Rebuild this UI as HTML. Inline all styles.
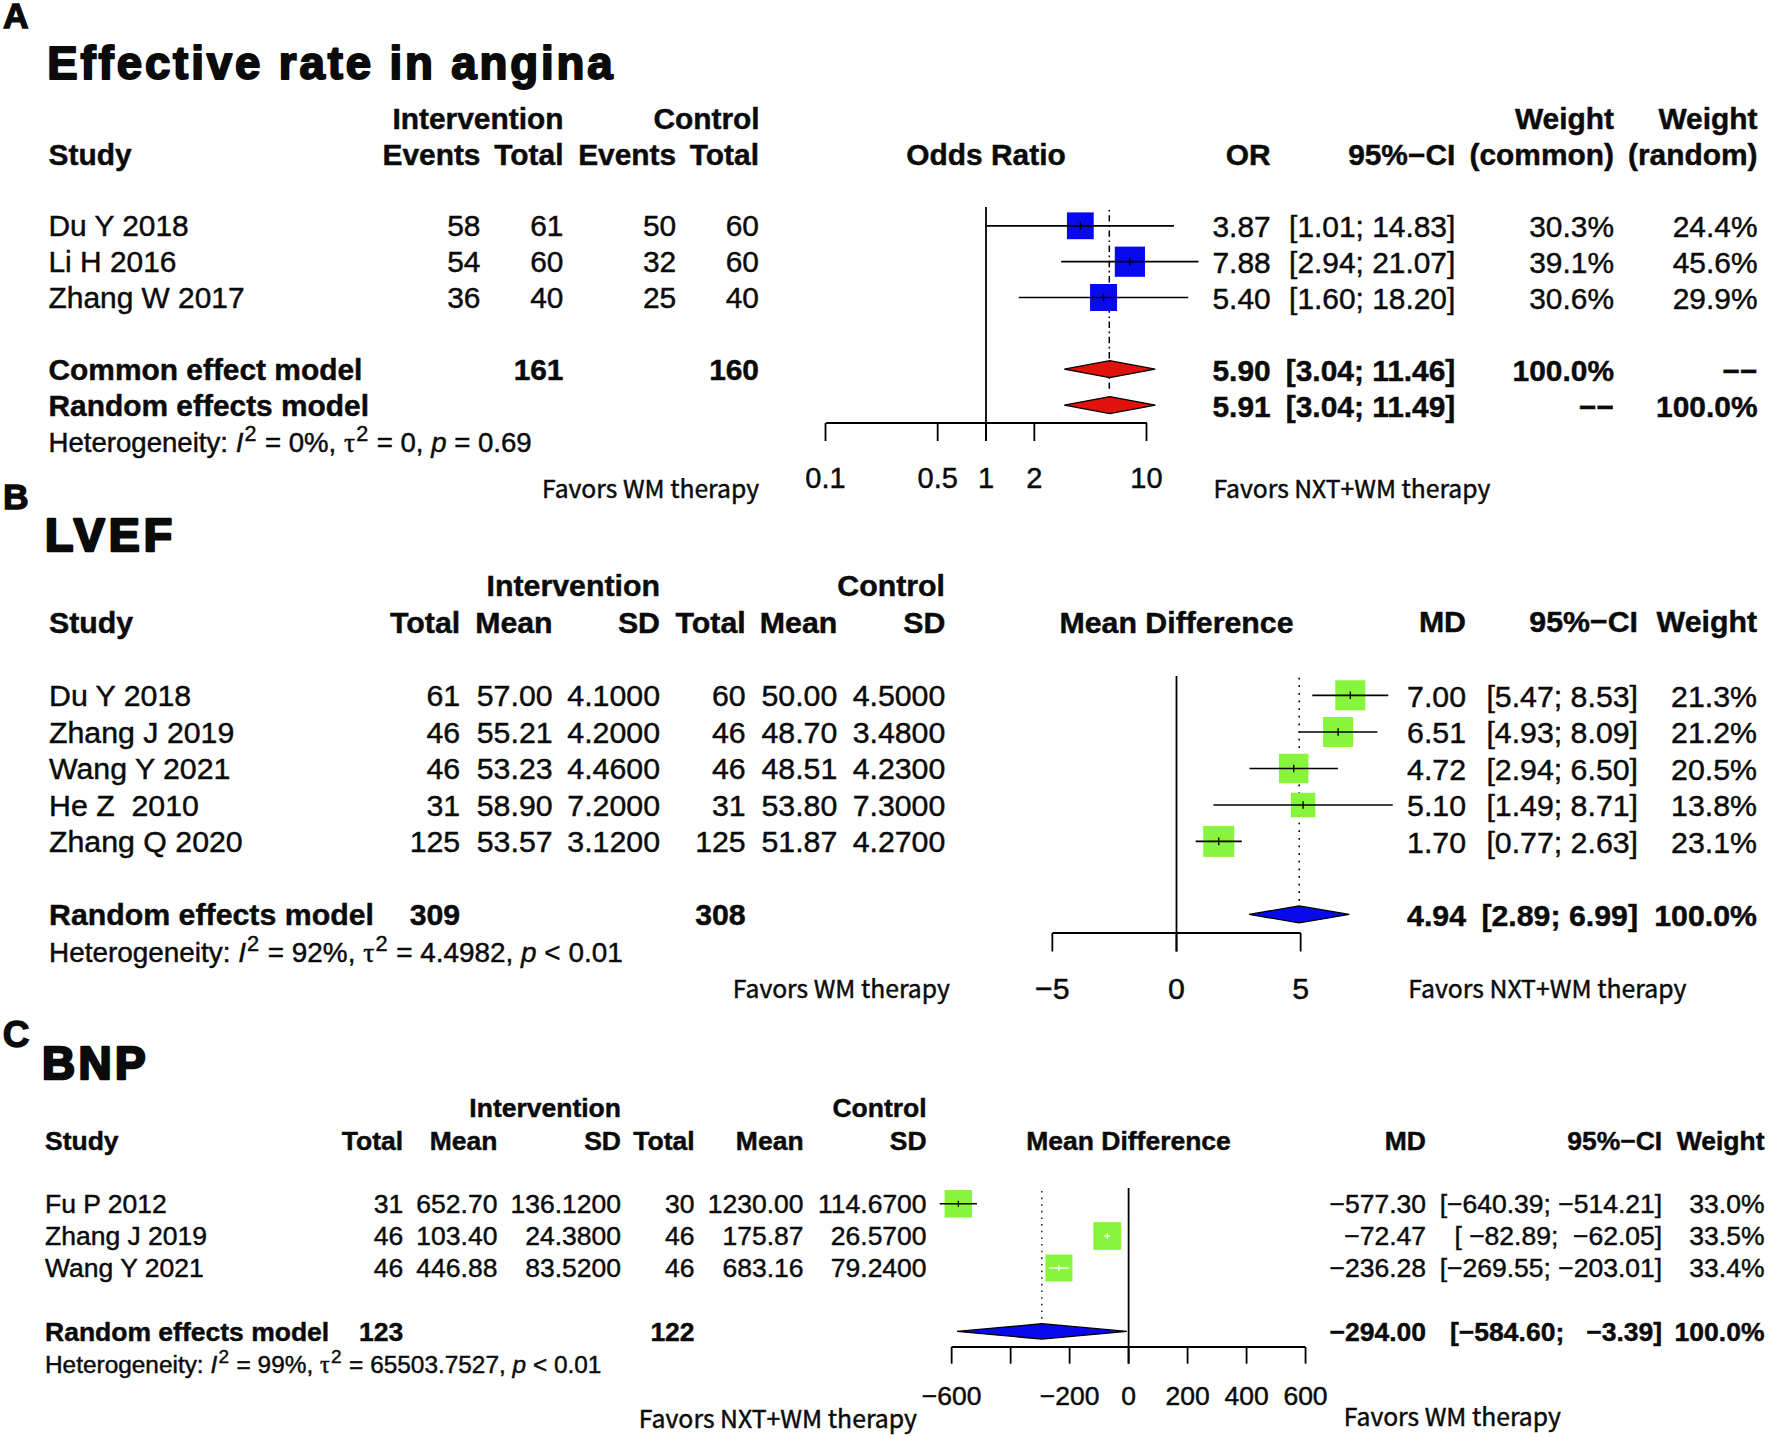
<!DOCTYPE html>
<html lang="en"><head><meta charset="utf-8"><title>Forest plots</title>
<style>
html,body{margin:0;padding:0;background:#fff}
body{width:1772px;height:1438px;overflow:hidden}
svg{display:block}
text{font-family:"Liberation Sans",Arial,Helvetica,sans-serif;fill:#0b0b0b;white-space:pre;stroke:#0b0b0b;stroke-width:0.45px}
text.b{font-weight:bold}
</style></head><body>
<svg width="1772" height="1438" viewBox="0 0 1772 1438">
<rect width="1772" height="1438" fill="#fff"/>
<text x="3" y="28" class="b" font-size="35.5" style="stroke-width:1.3px">A</text>
<text x="3" y="508.6" class="b" font-size="35.5" style="stroke-width:1.3px">B</text>
<text x="2.8" y="1047.2" class="b" font-size="37" style="stroke-width:1.3px">C</text>
<text x="47.2" y="78.9" class="b" font-size="45.6" style="stroke-width:2.0px;stroke-linejoin:round;stroke-linecap:round" textLength="565.5" lengthAdjust="spacing">Effective rate in angina</text>
<text x="45" y="550.5" class="b" font-size="46.4" style="stroke-width:2.6px;stroke-linejoin:round;stroke-linecap:round" textLength="127" lengthAdjust="spacing">LVEF</text>
<text x="42" y="1079.2" class="b" font-size="45.8" style="stroke-width:2.6px;stroke-linejoin:round;stroke-linecap:round" textLength="103.6" lengthAdjust="spacing">BNP</text>
<text x="563.5" y="129" text-anchor="end" class="b" font-size="29.9">Intervention</text>
<text x="759.7" y="129" text-anchor="end" class="b" font-size="29.9">Control</text>
<text x="1614" y="129" text-anchor="end" class="b" font-size="29.9">Weight</text>
<text x="1757.5" y="129" text-anchor="end" class="b" font-size="29.9">Weight</text>
<text x="48.5" y="165" class="b" font-size="29.9">Study</text>
<text x="480.5" y="165" text-anchor="end" class="b" font-size="29.9">Events</text>
<text x="563.5" y="165" text-anchor="end" class="b" font-size="29.9">Total</text>
<text x="676.2" y="165" text-anchor="end" class="b" font-size="29.9">Events</text>
<text x="759" y="165" text-anchor="end" class="b" font-size="29.9">Total</text>
<text x="986" y="165" text-anchor="middle" class="b" font-size="29.9">Odds Ratio</text>
<text x="1270.7" y="165" text-anchor="end" class="b" font-size="29.9">OR</text>
<text x="1455.3" y="165" text-anchor="end" class="b" font-size="29.9">95%−CI</text>
<text x="1614" y="165" text-anchor="end" class="b" font-size="29.9">(common)</text>
<text x="1757.5" y="165" text-anchor="end" class="b" font-size="29.9">(random)</text>
<text x="48.5" y="236" font-size="29.9">Du Y 2018</text>
<text x="480.5" y="236" text-anchor="end" font-size="29.9">58</text>
<text x="563.5" y="236" text-anchor="end" font-size="29.9">61</text>
<text x="676.2" y="236" text-anchor="end" font-size="29.9">50</text>
<text x="759" y="236" text-anchor="end" font-size="29.9">60</text>
<text x="1270.7" y="236.7" text-anchor="end" font-size="29.9">3.87</text>
<text x="1455.3" y="236.7" text-anchor="end" font-size="29.9">[1.01; 14.83]</text>
<text x="1614" y="236.7" text-anchor="end" font-size="29.9">30.3%</text>
<text x="1757.5" y="236.7" text-anchor="end" font-size="29.9">24.4%</text>
<text x="48.5" y="272" font-size="29.9">Li H 2016</text>
<text x="480.5" y="272" text-anchor="end" font-size="29.9">54</text>
<text x="563.5" y="272" text-anchor="end" font-size="29.9">60</text>
<text x="676.2" y="272" text-anchor="end" font-size="29.9">32</text>
<text x="759" y="272" text-anchor="end" font-size="29.9">60</text>
<text x="1270.7" y="272.7" text-anchor="end" font-size="29.9">7.88</text>
<text x="1455.3" y="272.7" text-anchor="end" font-size="29.9">[2.94; 21.07]</text>
<text x="1614" y="272.7" text-anchor="end" font-size="29.9">39.1%</text>
<text x="1757.5" y="272.7" text-anchor="end" font-size="29.9">45.6%</text>
<text x="48.5" y="308" font-size="29.9">Zhang W 2017</text>
<text x="480.5" y="308" text-anchor="end" font-size="29.9">36</text>
<text x="563.5" y="308" text-anchor="end" font-size="29.9">40</text>
<text x="676.2" y="308" text-anchor="end" font-size="29.9">25</text>
<text x="759" y="308" text-anchor="end" font-size="29.9">40</text>
<text x="1270.7" y="308.7" text-anchor="end" font-size="29.9">5.40</text>
<text x="1455.3" y="308.7" text-anchor="end" font-size="29.9">[1.60; 18.20]</text>
<text x="1614" y="308.7" text-anchor="end" font-size="29.9">30.6%</text>
<text x="1757.5" y="308.7" text-anchor="end" font-size="29.9">29.9%</text>
<text x="48.5" y="380" class="b" font-size="29.9">Common effect model</text>
<text x="563.5" y="380" text-anchor="end" class="b" font-size="29.9">161</text>
<text x="759" y="380" text-anchor="end" class="b" font-size="29.9">160</text>
<text x="1270.7" y="380.7" text-anchor="end" class="b" font-size="29.9">5.90</text>
<text x="1455.3" y="380.7" text-anchor="end" class="b" font-size="29.9">[3.04; 11.46]</text>
<text x="1614" y="380.7" text-anchor="end" class="b" font-size="29.9">100.0%</text>
<text x="1757.5" y="380.7" text-anchor="end" class="b" font-size="29.9">−−</text>
<text x="48.5" y="416" class="b" font-size="29.9">Random effects model</text>
<text x="1270.7" y="416.7" text-anchor="end" class="b" font-size="29.9">5.91</text>
<text x="1455.3" y="416.7" text-anchor="end" class="b" font-size="29.9">[3.04; 11.49]</text>
<text x="1614" y="416.7" text-anchor="end" class="b" font-size="29.9">−−</text>
<text x="1757.5" y="416.7" text-anchor="end" class="b" font-size="29.9">100.0%</text>
<text x="48.5" y="451.5" font-size="27.6">Heterogeneity: <tspan font-style="italic">I</tspan><tspan font-size="21.5" dx="1.2" dy="-11.0">2</tspan><tspan dx="0.8" dy="11.0"> = 0%, </tspan><tspan font-family='"Liberation Serif","DejaVu Serif",serif'>τ</tspan><tspan font-size="21.5" dx="1.2" dy="-11.0">2</tspan><tspan dx="0.8" dy="11.0"> = 0, </tspan><tspan font-style="italic">p</tspan> = 0.69</text>
<text x="759" y="497.5" text-anchor="end" font-size="24.7" style='font-family:"Noto Sans CJK SC","Liberation Sans",sans-serif'>Favors WM therapy</text>
<text x="1213.4" y="497.5" font-size="24.7" style='font-family:"Noto Sans CJK SC","Liberation Sans",sans-serif'>Favors NXT+WM therapy</text>
<line x1="826.00" y1="423.00" x2="1147.00" y2="423.00" stroke="#000" stroke-width="1.8"/>
<line x1="825.50" y1="423.00" x2="825.50" y2="441.00" stroke="#000" stroke-width="1.8"/>
<line x1="937.68" y1="423.00" x2="937.68" y2="441.00" stroke="#000" stroke-width="1.8"/>
<line x1="986.00" y1="423.00" x2="986.00" y2="441.00" stroke="#000" stroke-width="1.8"/>
<line x1="1034.32" y1="423.00" x2="1034.32" y2="441.00" stroke="#000" stroke-width="1.8"/>
<line x1="1146.50" y1="423.00" x2="1146.50" y2="441.00" stroke="#000" stroke-width="1.8"/>
<line x1="986.00" y1="207.00" x2="986.00" y2="441.00" stroke="#000" stroke-width="1.8"/>
<line x1="1109.30" y1="210.00" x2="1109.30" y2="392.00" stroke="#000" stroke-width="1.5" stroke-dasharray="1.6,3.6,6.4,3.6"/>
<rect x="1066.93" y="212.40" width="26.80" height="26.80" fill="#0909f0"/>
<line x1="986.69" y1="225.80" x2="1173.97" y2="225.80" stroke="#000" stroke-width="1.7"/>
<line x1="1080.33" y1="222.00" x2="1080.33" y2="229.60" stroke="#000" stroke-width="1.4"/>
<rect x="1114.79" y="246.60" width="30.20" height="30.20" fill="#0909f0"/>
<line x1="1061.17" y1="261.70" x2="1198.45" y2="261.70" stroke="#000" stroke-width="1.7"/>
<line x1="1129.89" y1="257.90" x2="1129.89" y2="265.50" stroke="#000" stroke-width="1.4"/>
<rect x="1090.05" y="284.00" width="27.00" height="27.00" fill="#0909f0"/>
<line x1="1018.76" y1="297.50" x2="1188.24" y2="297.50" stroke="#000" stroke-width="1.7"/>
<line x1="1103.55" y1="293.70" x2="1103.55" y2="301.30" stroke="#000" stroke-width="1.4"/>
<polygon points="1064.30,369.20 1109.72,360.70 1155.20,369.20 1109.72,377.70" fill="#e1120c" stroke="#000" stroke-width="1.3" stroke-linejoin="miter"/>
<polygon points="1064.30,405.10 1109.84,396.60 1155.38,405.10 1109.84,413.60" fill="#e1120c" stroke="#000" stroke-width="1.3" stroke-linejoin="miter"/>
<text x="825.5" y="488" text-anchor="middle" font-size="29">0.1</text>
<text x="937.7" y="488" text-anchor="middle" font-size="29">0.5</text>
<text x="986.0" y="488" text-anchor="middle" font-size="29">1</text>
<text x="1034.3" y="488" text-anchor="middle" font-size="29">2</text>
<text x="1146.5" y="488" text-anchor="middle" font-size="29">10</text>
<text x="660" y="596" text-anchor="end" class="b" font-size="30.3">Intervention</text>
<text x="945" y="596" text-anchor="end" class="b" font-size="30.3">Control</text>
<text x="49" y="632.5" class="b" font-size="30.3">Study</text>
<text x="460.2" y="632.5" text-anchor="end" class="b" font-size="30.3">Total</text>
<text x="552.6" y="632.5" text-anchor="end" class="b" font-size="30.3">Mean</text>
<text x="660" y="632.5" text-anchor="end" class="b" font-size="30.3">SD</text>
<text x="745.7" y="632.5" text-anchor="end" class="b" font-size="30.3">Total</text>
<text x="837.3" y="632.5" text-anchor="end" class="b" font-size="30.3">Mean</text>
<text x="945.3" y="632.5" text-anchor="end" class="b" font-size="30.3">SD</text>
<text x="1176.5" y="632.5" text-anchor="middle" class="b" font-size="30.3">Mean Difference</text>
<text x="1466" y="631.8" text-anchor="end" class="b" font-size="30.3">MD</text>
<text x="1638" y="631.8" text-anchor="end" class="b" font-size="30.3">95%−CI</text>
<text x="1757" y="631.8" text-anchor="end" class="b" font-size="30.3">Weight</text>
<text x="49" y="706" font-size="30.3">Du Y 2018</text>
<text x="460.2" y="706" text-anchor="end" font-size="30.3">61</text>
<text x="552.6" y="706" text-anchor="end" font-size="30.3">57.00</text>
<text x="660" y="706" text-anchor="end" font-size="30.3">4.1000</text>
<text x="745.7" y="706" text-anchor="end" font-size="30.3">60</text>
<text x="837.3" y="706" text-anchor="end" font-size="30.3">50.00</text>
<text x="945.3" y="706" text-anchor="end" font-size="30.3">4.5000</text>
<text x="1466" y="706.8" text-anchor="end" font-size="30.3">7.00</text>
<text x="1638" y="706.8" text-anchor="end" font-size="30.3">[5.47; 8.53]</text>
<text x="1757" y="706.8" text-anchor="end" font-size="30.3">21.3%</text>
<text x="49" y="742.5" font-size="30.3">Zhang J 2019</text>
<text x="460.2" y="742.5" text-anchor="end" font-size="30.3">46</text>
<text x="552.6" y="742.5" text-anchor="end" font-size="30.3">55.21</text>
<text x="660" y="742.5" text-anchor="end" font-size="30.3">4.2000</text>
<text x="745.7" y="742.5" text-anchor="end" font-size="30.3">46</text>
<text x="837.3" y="742.5" text-anchor="end" font-size="30.3">48.70</text>
<text x="945.3" y="742.5" text-anchor="end" font-size="30.3">3.4800</text>
<text x="1466" y="743.3" text-anchor="end" font-size="30.3">6.51</text>
<text x="1638" y="743.3" text-anchor="end" font-size="30.3">[4.93; 8.09]</text>
<text x="1757" y="743.3" text-anchor="end" font-size="30.3">21.2%</text>
<text x="49" y="779" font-size="30.3">Wang Y 2021</text>
<text x="460.2" y="779" text-anchor="end" font-size="30.3">46</text>
<text x="552.6" y="779" text-anchor="end" font-size="30.3">53.23</text>
<text x="660" y="779" text-anchor="end" font-size="30.3">4.4600</text>
<text x="745.7" y="779" text-anchor="end" font-size="30.3">46</text>
<text x="837.3" y="779" text-anchor="end" font-size="30.3">48.51</text>
<text x="945.3" y="779" text-anchor="end" font-size="30.3">4.2300</text>
<text x="1466" y="779.8" text-anchor="end" font-size="30.3">4.72</text>
<text x="1638" y="779.8" text-anchor="end" font-size="30.3">[2.94; 6.50]</text>
<text x="1757" y="779.8" text-anchor="end" font-size="30.3">20.5%</text>
<text x="49" y="815.5" font-size="30.3">He Z&#160; 2010</text>
<text x="460.2" y="815.5" text-anchor="end" font-size="30.3">31</text>
<text x="552.6" y="815.5" text-anchor="end" font-size="30.3">58.90</text>
<text x="660" y="815.5" text-anchor="end" font-size="30.3">7.2000</text>
<text x="745.7" y="815.5" text-anchor="end" font-size="30.3">31</text>
<text x="837.3" y="815.5" text-anchor="end" font-size="30.3">53.80</text>
<text x="945.3" y="815.5" text-anchor="end" font-size="30.3">7.3000</text>
<text x="1466" y="816.3" text-anchor="end" font-size="30.3">5.10</text>
<text x="1638" y="816.3" text-anchor="end" font-size="30.3">[1.49; 8.71]</text>
<text x="1757" y="816.3" text-anchor="end" font-size="30.3">13.8%</text>
<text x="49" y="852" font-size="30.3">Zhang Q 2020</text>
<text x="460.2" y="852" text-anchor="end" font-size="30.3">125</text>
<text x="552.6" y="852" text-anchor="end" font-size="30.3">53.57</text>
<text x="660" y="852" text-anchor="end" font-size="30.3">3.1200</text>
<text x="745.7" y="852" text-anchor="end" font-size="30.3">125</text>
<text x="837.3" y="852" text-anchor="end" font-size="30.3">51.87</text>
<text x="945.3" y="852" text-anchor="end" font-size="30.3">4.2700</text>
<text x="1466" y="852.8" text-anchor="end" font-size="30.3">1.70</text>
<text x="1638" y="852.8" text-anchor="end" font-size="30.3">[0.77; 2.63]</text>
<text x="1757" y="852.8" text-anchor="end" font-size="30.3">23.1%</text>
<text x="49" y="925" class="b" font-size="30.3">Random effects model</text>
<text x="460.2" y="925" text-anchor="end" class="b" font-size="30.3">309</text>
<text x="745.7" y="925" text-anchor="end" class="b" font-size="30.3">308</text>
<text x="1466" y="925.8" text-anchor="end" class="b" font-size="30.3">4.94</text>
<text x="1638" y="925.8" text-anchor="end" class="b" font-size="30.3">[2.89; 6.99]</text>
<text x="1757" y="925.8" text-anchor="end" class="b" font-size="30.3">100.0%</text>
<text x="49" y="962" font-size="27.9">Heterogeneity: <tspan font-style="italic">I</tspan><tspan font-size="21.8" dx="1.2" dy="-11.2">2</tspan><tspan dx="0.8" dy="11.2"> = 92%, </tspan><tspan font-family='"Liberation Serif","DejaVu Serif",serif'>τ</tspan><tspan font-size="21.8" dx="1.2" dy="-11.2">2</tspan><tspan dx="0.8" dy="11.2"> = 4.4982, </tspan><tspan font-style="italic">p</tspan> &lt; 0.01</text>
<text x="949.8" y="997.5" text-anchor="end" font-size="24.7" style='font-family:"Noto Sans CJK SC","Liberation Sans",sans-serif'>Favors WM therapy</text>
<text x="1408.3" y="997.5" font-size="24.8" style='font-family:"Noto Sans CJK SC","Liberation Sans",sans-serif'>Favors NXT+WM therapy</text>
<line x1="1052.50" y1="933.00" x2="1300.80" y2="933.00" stroke="#000" stroke-width="1.8"/>
<line x1="1052.35" y1="933.00" x2="1052.35" y2="951.50" stroke="#000" stroke-width="1.8"/>
<line x1="1176.50" y1="933.00" x2="1176.50" y2="951.50" stroke="#000" stroke-width="1.8"/>
<line x1="1300.65" y1="933.00" x2="1300.65" y2="951.50" stroke="#000" stroke-width="1.8"/>
<line x1="1176.50" y1="676.00" x2="1176.50" y2="951.50" stroke="#000" stroke-width="1.8"/>
<line x1="1299.20" y1="677.70" x2="1299.20" y2="903.00" stroke="#000" stroke-width="1.6" stroke-dasharray="1.7,5.93"/>
<rect x="1335.31" y="680.30" width="30.00" height="30.00" fill="#86f53c"/>
<line x1="1312.32" y1="695.30" x2="1388.30" y2="695.30" stroke="#000" stroke-width="1.7"/>
<line x1="1350.31" y1="691.50" x2="1350.31" y2="699.10" stroke="#000" stroke-width="1.4"/>
<rect x="1323.14" y="717.00" width="30.00" height="30.00" fill="#86f53c"/>
<line x1="1298.91" y1="732.00" x2="1377.37" y2="732.00" stroke="#000" stroke-width="1.7"/>
<line x1="1338.14" y1="728.20" x2="1338.14" y2="735.80" stroke="#000" stroke-width="1.4"/>
<rect x="1278.95" y="753.75" width="29.50" height="29.50" fill="#86f53c"/>
<line x1="1249.50" y1="768.50" x2="1337.89" y2="768.50" stroke="#000" stroke-width="1.7"/>
<line x1="1293.70" y1="764.70" x2="1293.70" y2="772.30" stroke="#000" stroke-width="1.4"/>
<rect x="1290.88" y="792.75" width="24.50" height="24.50" fill="#86f53c"/>
<line x1="1213.50" y1="805.00" x2="1392.77" y2="805.00" stroke="#000" stroke-width="1.7"/>
<line x1="1303.13" y1="801.20" x2="1303.13" y2="808.80" stroke="#000" stroke-width="1.4"/>
<rect x="1203.21" y="825.90" width="31.00" height="31.00" fill="#86f53c"/>
<line x1="1195.62" y1="841.40" x2="1241.80" y2="841.40" stroke="#000" stroke-width="1.7"/>
<line x1="1218.71" y1="837.60" x2="1218.71" y2="845.20" stroke="#000" stroke-width="1.4"/>
<polygon points="1249.06,914.40 1299.16,905.90 1349.26,914.40 1299.16,922.90" fill="#0909f0" stroke="#000" stroke-width="1.3" stroke-linejoin="miter"/>
<text x="1052.3" y="999" text-anchor="middle" font-size="30.3">−5</text>
<text x="1176.5" y="999" text-anchor="middle" font-size="30.3">0</text>
<text x="1300.7" y="999" text-anchor="middle" font-size="30.3">5</text>
<text x="621" y="1117" text-anchor="end" class="b" font-size="26.5">Intervention</text>
<text x="926.6" y="1117" text-anchor="end" class="b" font-size="26.5">Control</text>
<text x="45" y="1149.6" class="b" font-size="26.5">Study</text>
<text x="403.2" y="1149.6" text-anchor="end" class="b" font-size="26.5">Total</text>
<text x="497.4" y="1149.6" text-anchor="end" class="b" font-size="26.5">Mean</text>
<text x="621" y="1149.6" text-anchor="end" class="b" font-size="26.5">SD</text>
<text x="694.6" y="1149.6" text-anchor="end" class="b" font-size="26.5">Total</text>
<text x="803.6" y="1149.6" text-anchor="end" class="b" font-size="26.5">Mean</text>
<text x="926.6" y="1149.6" text-anchor="end" class="b" font-size="26.5">SD</text>
<text x="1128.5" y="1149.6" text-anchor="middle" class="b" font-size="26.5">Mean Difference</text>
<text x="1426" y="1149.6" text-anchor="end" class="b" font-size="26.5">MD</text>
<text x="1662.2" y="1149.6" text-anchor="end" class="b" font-size="26.5">95%−CI</text>
<text x="1764.5" y="1149.6" text-anchor="end" class="b" font-size="26.5">Weight</text>
<text x="45" y="1212.8" font-size="26.5">Fu P 2012</text>
<text x="403.2" y="1212.8" text-anchor="end" font-size="26.5">31</text>
<text x="497.4" y="1212.8" text-anchor="end" font-size="26.5">652.70</text>
<text x="621" y="1212.8" text-anchor="end" font-size="26.5">136.1200</text>
<text x="694.6" y="1212.8" text-anchor="end" font-size="26.5">30</text>
<text x="803.6" y="1212.8" text-anchor="end" font-size="26.5">1230.00</text>
<text x="926.6" y="1212.8" text-anchor="end" font-size="26.5">114.6700</text>
<text x="1426" y="1212.8" text-anchor="end" font-size="26.5">−577.30</text>
<text x="1662.2" y="1212.8" text-anchor="end" font-size="26.5">[−640.39; −514.21]</text>
<text x="1764.5" y="1212.8" text-anchor="end" font-size="26.5">33.0%</text>
<text x="45" y="1244.8" font-size="26.5">Zhang J 2019</text>
<text x="403.2" y="1244.8" text-anchor="end" font-size="26.5">46</text>
<text x="497.4" y="1244.8" text-anchor="end" font-size="26.5">103.40</text>
<text x="621" y="1244.8" text-anchor="end" font-size="26.5">24.3800</text>
<text x="694.6" y="1244.8" text-anchor="end" font-size="26.5">46</text>
<text x="803.6" y="1244.8" text-anchor="end" font-size="26.5">175.87</text>
<text x="926.6" y="1244.8" text-anchor="end" font-size="26.5">26.5700</text>
<text x="1426" y="1244.8" text-anchor="end" font-size="26.5">−72.47</text>
<text x="1662.2" y="1244.8" text-anchor="end" font-size="26.5">[&#160;−82.89;&#160; −62.05]</text>
<text x="1764.5" y="1244.8" text-anchor="end" font-size="26.5">33.5%</text>
<text x="45" y="1276.8" font-size="26.5">Wang Y 2021</text>
<text x="403.2" y="1276.8" text-anchor="end" font-size="26.5">46</text>
<text x="497.4" y="1276.8" text-anchor="end" font-size="26.5">446.88</text>
<text x="621" y="1276.8" text-anchor="end" font-size="26.5">83.5200</text>
<text x="694.6" y="1276.8" text-anchor="end" font-size="26.5">46</text>
<text x="803.6" y="1276.8" text-anchor="end" font-size="26.5">683.16</text>
<text x="926.6" y="1276.8" text-anchor="end" font-size="26.5">79.2400</text>
<text x="1426" y="1276.8" text-anchor="end" font-size="26.5">−236.28</text>
<text x="1662.2" y="1276.8" text-anchor="end" font-size="26.5">[−269.55; −203.01]</text>
<text x="1764.5" y="1276.8" text-anchor="end" font-size="26.5">33.4%</text>
<text x="45" y="1340.5" class="b" font-size="26.5">Random effects model</text>
<text x="403.2" y="1340.5" text-anchor="end" class="b" font-size="26.5">123</text>
<text x="694.6" y="1340.5" text-anchor="end" class="b" font-size="26.5">122</text>
<text x="1426" y="1341" text-anchor="end" class="b" font-size="26.5">−294.00</text>
<text x="1662.2" y="1341" text-anchor="end" class="b" font-size="26.5">[−584.60;&#160;&#160; −3.39]</text>
<text x="1764.5" y="1341" text-anchor="end" class="b" font-size="26.5">100.0%</text>
<text x="45" y="1373" font-size="24.4">Heterogeneity: <tspan font-style="italic">I</tspan><tspan font-size="19.0" dx="1.2" dy="-9.8">2</tspan><tspan dx="0.8" dy="9.8"> = 99%, </tspan><tspan font-family='"Liberation Serif","DejaVu Serif",serif'>τ</tspan><tspan font-size="19.0" dx="1.2" dy="-9.8">2</tspan><tspan dx="0.8" dy="9.8"> = 65503.7527, </tspan><tspan font-style="italic">p</tspan> &lt; 0.01</text>
<text x="917" y="1427.6" text-anchor="end" font-size="24.8" style='font-family:"Noto Sans CJK SC","Liberation Sans",sans-serif'>Favors NXT+WM therapy</text>
<text x="1343.8" y="1426.4" font-size="24.7" style='font-family:"Noto Sans CJK SC","Liberation Sans",sans-serif'>Favors WM therapy</text>
<line x1="951.50" y1="1347.00" x2="1305.40" y2="1347.00" stroke="#000" stroke-width="1.8"/>
<line x1="951.65" y1="1347.00" x2="951.65" y2="1363.70" stroke="#000" stroke-width="1.8"/>
<line x1="1010.63" y1="1347.00" x2="1010.63" y2="1363.70" stroke="#000" stroke-width="1.8"/>
<line x1="1069.62" y1="1347.00" x2="1069.62" y2="1363.70" stroke="#000" stroke-width="1.8"/>
<line x1="1128.60" y1="1347.00" x2="1128.60" y2="1363.70" stroke="#000" stroke-width="1.8"/>
<line x1="1187.58" y1="1347.00" x2="1187.58" y2="1363.70" stroke="#000" stroke-width="1.8"/>
<line x1="1246.57" y1="1347.00" x2="1246.57" y2="1363.70" stroke="#000" stroke-width="1.8"/>
<line x1="1305.55" y1="1347.00" x2="1305.55" y2="1363.70" stroke="#000" stroke-width="1.8"/>
<line x1="1128.60" y1="1188.00" x2="1128.60" y2="1363.70" stroke="#000" stroke-width="1.8"/>
<line x1="1041.80" y1="1190.90" x2="1041.80" y2="1321.00" stroke="#222" stroke-width="1.5" stroke-dasharray="1.6,5.04"/>
<rect x="944.59" y="1190.05" width="27.50" height="27.50" fill="#86f53c"/>
<line x1="939.74" y1="1203.80" x2="976.95" y2="1203.80" stroke="#000" stroke-width="1.4"/>
<line x1="958.34" y1="1200.80" x2="958.34" y2="1206.80" stroke="#000" stroke-width="1.2"/>
<rect x="1093.33" y="1222.10" width="27.80" height="27.80" fill="#86f53c"/>
<line x1="1104.15" y1="1236.00" x2="1110.30" y2="1236.00" stroke="#fff" stroke-width="1.4"/>
<line x1="1107.23" y1="1233.00" x2="1107.23" y2="1239.00" stroke="#fff" stroke-width="1.2"/>
<rect x="1045.42" y="1254.50" width="27.00" height="27.00" fill="#86f53c"/>
<line x1="1049.11" y1="1268.00" x2="1068.73" y2="1268.00" stroke="#fff" stroke-width="1.4"/>
<line x1="1058.92" y1="1265.00" x2="1058.92" y2="1271.00" stroke="#fff" stroke-width="1.2"/>
<polygon points="956.99,1331.40 1041.89,1323.70 1126.80,1331.40 1041.89,1339.10" fill="#0909f0" stroke="#000" stroke-width="1.3" stroke-linejoin="miter"/>
<text x="951.6" y="1405" text-anchor="middle" font-size="26.5">−600</text>
<text x="1069.6" y="1405" text-anchor="middle" font-size="26.5">−200</text>
<text x="1128.6" y="1405" text-anchor="middle" font-size="26.5">0</text>
<text x="1187.6" y="1405" text-anchor="middle" font-size="26.5">200</text>
<text x="1246.6" y="1405" text-anchor="middle" font-size="26.5">400</text>
<text x="1305.5" y="1405" text-anchor="middle" font-size="26.5">600</text>
</svg>
</body></html>
